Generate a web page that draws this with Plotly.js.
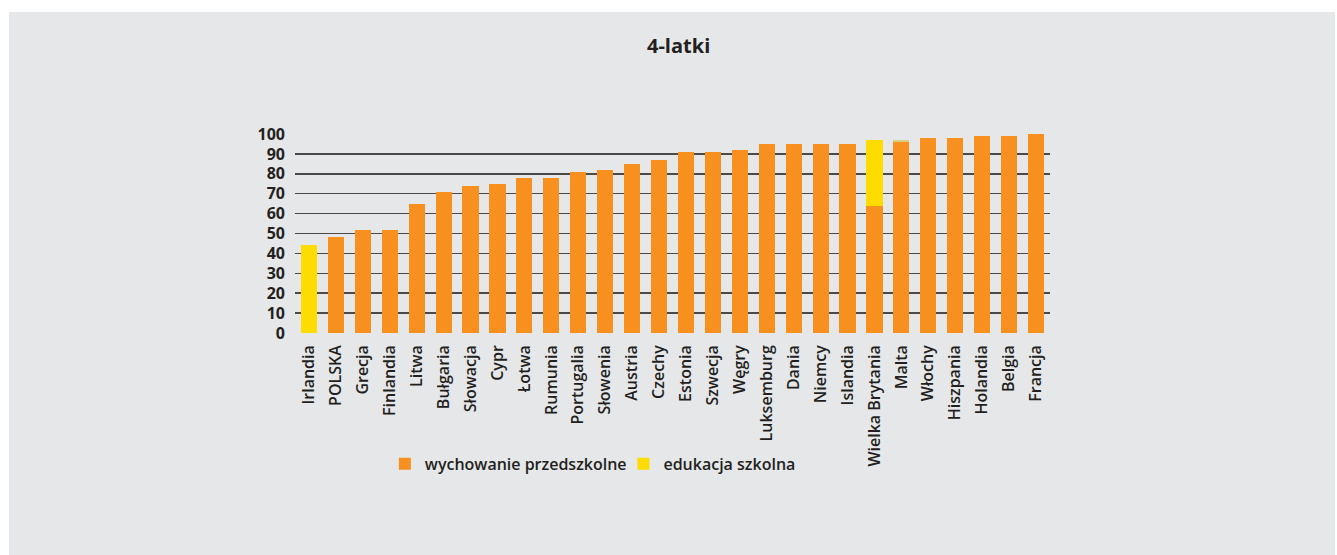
<!DOCTYPE html>
<html>
<head>
<meta charset="utf-8">
<script src="https://cdn.plot.ly/plotly-3.0.1.min.js"></script>
<style>
  html, body { margin: 0; padding: 0; background: #ffffff; }
  #chart { position: absolute; left: 9px; top: 12px; width: 1326px; height: 543px; }
</style>
</head>
<body>
<div id="chart"></div>
<script>
const countries = ["Irlandia","POLSKA","Grecja","Finlandia","Litwa","Bułgaria","Słowacja","Cypr","Łotwa","Rumunia","Portugalia","Słowenia","Austria","Czechy","Estonia","Szwecja","Węgry","Luksemburg","Dania","Niemcy","Islandia","Wielka Brytania","Malta","Włochy","Hiszpania","Holandia","Belgia","Francja"];
const preschool = [0,48,52,52,65,71,74,75,78,78,81,82,85,87,91,91,92,95,95,95,95,64,96,98,98,99,99,100];
const school    = [44,0,0,0,0,0,0,0,0,0,0,0,0,0,0,0,0,0,0,0,0,33,1,0,0,0,0,0];
const yTicks = [0,10,20,30,40,50,60,70,80,90,100];
const seriesNames = ["wychowanie przedszkolne","edukacja szkolna"];

const FONT = "Open Sans, Noto Sans, sans-serif";
const schoolColors = countries.map(c => c === "Malta" ? "#d9cf86" : "#ffdc00");
const legendFont = { family: FONT, size: 16, color: "#231f20", weight: 600 };

const traces = [
  { type: "bar", name: seriesNames[0], x: countries, y: preschool,
    marker: { color: "#f7901e" }, hoverinfo: "x+y", legend: "legend" },
  { type: "bar", name: seriesNames[1], x: countries, y: school,
    marker: { color: schoolColors }, hoverinfo: "x+y", legend: "legend2" }
];

const layout = {
  width: 1326, height: 543,
  paper_bgcolor: "#e6e7e9", plot_bgcolor: "#e6e7e9",
  margin: { l: 286, r: 285, t: 122, b: 222 },
  barmode: "stack", bargap: 0.4,
  showlegend: true,
  title: { text: "<b>4-latki</b>", x: 0.505, xanchor: "center", y: 0.937, yanchor: "middle",
           font: { family: FONT, size: 20, color: "#231f20" } },
  xaxis: {
    type: "category", range: [-0.52, 27.52], tickangle: -90,
    tickfont: { family: FONT, size: 16, color: "#231f20", weight: 600 },
    showgrid: false, zeroline: false, showline: false, ticks: "", ticklen: 0,
    ticklabelstandoff: 8,
    automargin: false
  },
  yaxis: {
    range: [0, 100], tickvals: yTicks, ticktext: yTicks.map(String),
    tickfont: { family: FONT, size: 16, color: "#231f20", weight: 700 },
    showgrid: true, gridcolor: "#4a4a4a", gridwidth: 1.5,
    zeroline: false, showline: false, ticks: "", ticklabelstandoff: 9,
    automargin: false, fixedrange: true
  },
  legend: {
    orientation: "h", x: 0.119, xanchor: "left", y: -0.658, yanchor: "middle",
    font: legendFont, bgcolor: "rgba(0,0,0,0)", itemwidth: 30
  },
  legend2: {
    orientation: "h", x: 0.435, xanchor: "left", y: -0.658, yanchor: "middle",
    font: legendFont, bgcolor: "rgba(0,0,0,0)", itemwidth: 30
  }
};

Plotly.newPlot("chart", traces, layout, { displayModeBar: false, staticPlot: true });
</script>
</body>
</html>
